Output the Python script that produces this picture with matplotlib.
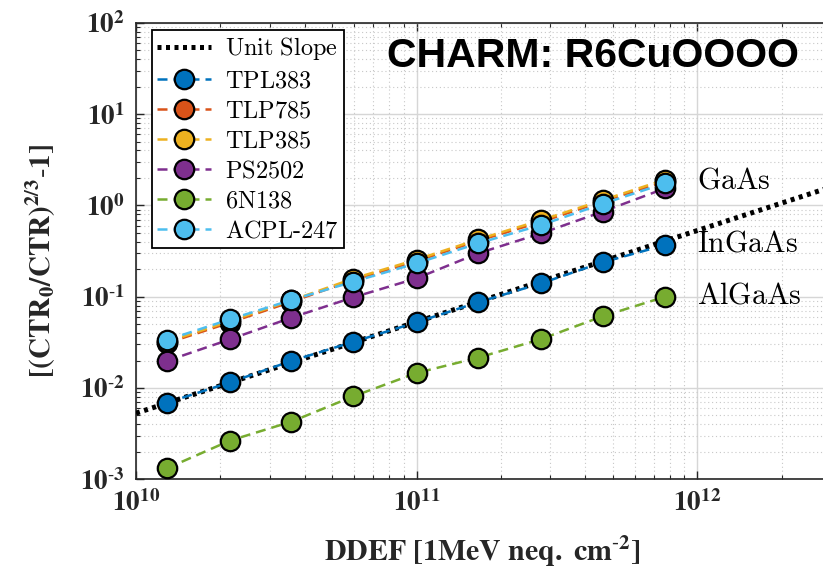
import numpy as np
import matplotlib
matplotlib.use("Agg")
import matplotlib.pyplot as plt
from matplotlib.ticker import LogLocator, FixedLocator, NullFormatter

# Displacement damage fluence [1 MeV neq cm^-2]
fluence = [1.29e10, 2.16e10, 3.58e10, 5.95e10, 1.0e11, 1.66e11, 2.78e11, 4.6e11, 7.7e11]

# Damage factor [(CTR0/CTR)^(2/3) - 1] for each optocoupler
tpl383 = [0.0069, 0.0115, 0.0198, 0.032, 0.0524, 0.087, 0.140, 0.238, 0.368]
tlp785 = [0.031, 0.052, 0.088, 0.152, 0.245, 0.41, 0.66, 1.10, 1.83]
tlp385 = [0.032, 0.054, 0.091, 0.158, 0.255, 0.425, 0.69, 1.14, 1.92]
ps2502 = [0.0198, 0.0341, 0.0589, 0.0984, 0.159, 0.299, 0.494, 0.853, 1.54]
n6n138 = [0.00132, 0.00265, 0.00428, 0.0081, 0.0146, 0.0215, 0.0343, 0.061, 0.100]
acpl247 = [0.0336, 0.0565, 0.092, 0.146, 0.232, 0.385, 0.61, 1.04, 1.75]

series_names = ["TPL383", "TLP785", "TLP385", "PS2502", "6N138", "ACPL-247"]
series_values = [tpl383, tlp785, tlp385, ps2502, n6n138, acpl247]
series_colors = ["#0072BD", "#D95319", "#EDB120", "#7E2F8E", "#77AC30", "#4DBEEE"]

# Unit-slope reference line y = k * x
unit_slope_k = 5.3e-13
unit_slope_x = [1e10, 3e12]

# Material group labels
group_labels = ["GaAs", "InGaAs", "AlGaAs"]
group_label_y = [1.9, 0.387, 0.104]
group_label_x = 1.0e12

W, H = 823, 576
fig = plt.figure(figsize=(W / 100, H / 100), dpi=100)
ax = fig.add_axes([136 / W, 1 - 479.3 / H, (831 - 136) / W, (479.3 - 22.8) / H])
ax.set_xscale("log")
ax.set_yscale("log")
ax.set_xlim(1e10, 3e12)
ax.set_ylim(1e-3, 1e2)

ax.grid(True, which="major", color="#d6d6d6", lw=1.0, ls="-", zorder=0)
ax.grid(True, which="minor", color="#c8c8c8", lw=0.8, ls=(0, (1, 2.5)), zorder=0)
ax.set_axisbelow(True)

ux = np.array(unit_slope_x)
ax.plot(ux, unit_slope_k * ux, color="black", lw=3.6, ls=(0, (0.8, 0.9)),
        dash_capstyle="butt", label=r"$\mathrm{Unit\ Slope}$", zorder=3)

for name, vals, col in zip(series_names, series_values, series_colors):
    ax.plot(fluence, vals, ls=(0, (4, 2.4)), lw=1.8, color=col, marker="o",
            markersize=14, markerfacecolor=col, markeredgecolor="black",
            markeredgewidth=1.6, label=r"$\mathrm{" + name.replace("-", "\\text{-}") + "}$",
            zorder=4)

for lab, yv in zip(group_labels, group_label_y):
    ax.text(group_label_x, yv, r"$\mathrm{" + lab + "}$", fontsize=21.5,
            ha="left", va="center", math_fontfamily="cm", zorder=5)

# ticks
ax.xaxis.set_major_locator(FixedLocator([1e10, 1e11, 1e12]))
ax.yaxis.set_major_locator(FixedLocator([1e-3, 1e-2, 1e-1, 1e0, 1e1, 1e2]))
ax.xaxis.set_minor_locator(LogLocator(base=10, subs=np.arange(2, 10), numticks=20))
ax.yaxis.set_minor_locator(LogLocator(base=10, subs=np.arange(2, 10), numticks=20))
ax.xaxis.set_minor_formatter(NullFormatter())
ax.yaxis.set_minor_formatter(NullFormatter())
ax.set_xticklabels([r"$\mathbf{10}^{\mathbf{%d}}$" % e for e in [10, 11, 12]])
ax.set_yticklabels([r"$\mathbf{10}^{\mathbf{%s}}$" % (str(e).replace("-", "\\text{-}"))
                    for e in [-3, -2, -1, 0, 1, 2]])
for lab in ax.get_xticklabels() + ax.get_yticklabels():
    lab.set_fontsize(19.5)
    lab.set_math_fontfamily("stix")
    lab.set_color("#262626")
ax.tick_params(which="both", direction="in", top=True, right=True, colors="#262626")
ax.tick_params(which="major", length=6, width=1.0, pad=8)
ax.tick_params(which="minor", length=3, width=0.8)
for sp in ax.spines.values():
    sp.set_linewidth(1.2)
    sp.set_color("#262626")

# axis labels
fig.text(482 / W, 1 - 551 / H, r"$\mathbf{DDEF\ [1MeV\ neq.\ cm^{\text{-}2}]}$",
         fontsize=21.5, ha="center", va="center", math_fontfamily="stix", color="#262626")
fig.text(41 / W, 1 - 261 / H, r"$\mathbf{[(CTR_0/CTR)^{2/3}\text{-}1]}$",
         fontsize=21, ha="center", va="center", rotation=90, math_fontfamily="stix",
         color="#262626")

# title inside the axes
fig.text(799 / W, 1 - 67 / H, "CHARM: R6CuOOOO", fontsize=29.5, fontweight="bold",
         family="Liberation Sans", ha="right", va="baseline", zorder=6)

leg = ax.legend(loc="upper left", bbox_to_anchor=(152 / W, 1 - 30 / H),
                bbox_transform=fig.transFigure, fontsize=17.5, frameon=True,
                fancybox=False, edgecolor="black", framealpha=1.0,
                handlelength=2.2, handletextpad=0.6, labelspacing=0.25,
                borderpad=0.22, borderaxespad=0)
leg.get_frame().set_linewidth(1.3)
for t in leg.get_texts():
    t.set_math_fontfamily("cm")
leg.set_zorder(10)

fig.savefig("out.png", dpi=100)
